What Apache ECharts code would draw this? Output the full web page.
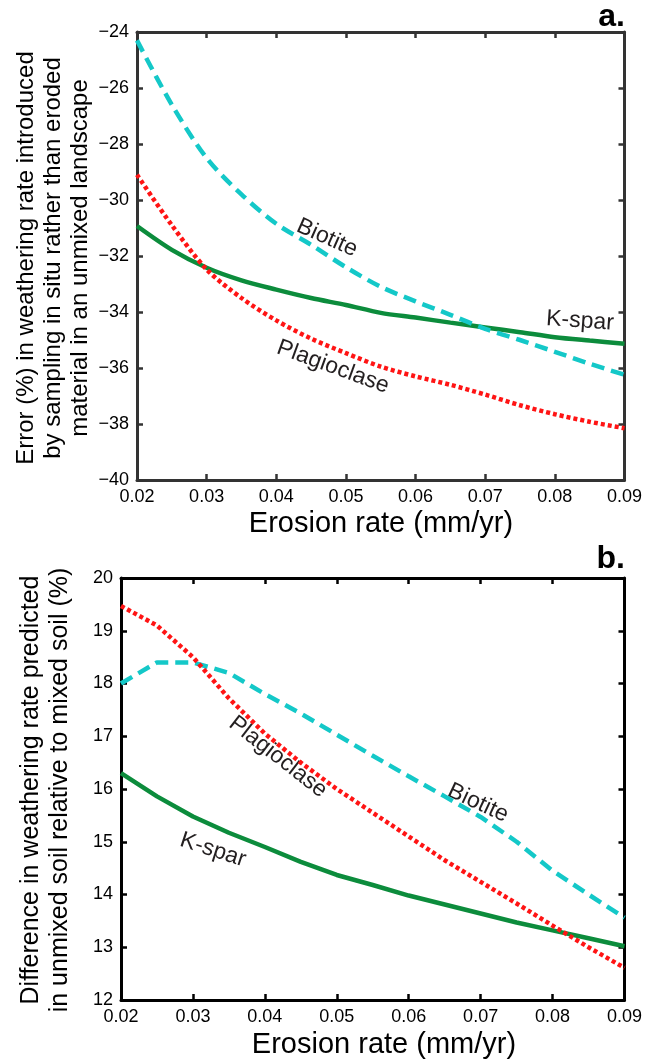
<!DOCTYPE html>
<html><head><meta charset="utf-8">
<script src="https://cdn.jsdelivr.net/npm/echarts@6/dist/echarts.min.js"></script>
<style>html,body{margin:0;padding:0;background:#fff}#c{width:645px;height:1063px}</style>
</head><body><div id="c"></div>
<script>
var erosion = [0.02,0.025,0.03,0.035,0.04,0.045,0.05,0.055,0.06,0.065,0.07,0.075,0.08,0.085,0.09];
var xTicks = ['0.02','0.03','0.04','0.05','0.06','0.07','0.08','0.09'];
// Panel a
var aBiotite = [-24.3,-26.6,-28.5,-29.8,-30.85,-31.6,-32.4,-33.1,-33.62,-34.1,-34.6,-35.0,-35.42,-35.85,-36.24];
var aKspar = [-30.93,-31.78,-32.42,-32.87,-33.2,-33.5,-33.75,-34.03,-34.2,-34.38,-34.55,-34.72,-34.9,-35.02,-35.13];
var aPlag = [-29.1,-30.9,-32.48,-33.5,-34.3,-34.95,-35.47,-35.95,-36.3,-36.6,-36.95,-37.33,-37.65,-37.92,-38.15];
// Panel b
var bBiotite = [18.0,18.4,18.4,18.2,17.8,17.43,17.03,16.63,16.24,15.86,15.47,15.0,14.45,14.0,13.56];
var bKspar = [16.3,15.86,15.48,15.17,14.9,14.62,14.37,14.18,13.98,13.81,13.64,13.47,13.32,13.17,13.02];
var bPlag = [19.47,19.1,18.5,17.72,17.05,16.5,16.0,15.55,15.1,14.65,14.24,13.83,13.41,13.0,12.61];

var labelsA = ['Biotite','K-spar','Plagioclase'];
var labelsB = ['Plagioclase','K-spar','Biotite'];
var xTitle = 'Erosion rate (mm/yr)';

var CYAN = '#14c8c8', RED = '#ff1414', GREEN = '#0c8c3c', TXT = '#231f20';
var tickFont = '"Liberation Sans Narrow","Arial Narrow","Liberation Sans",Arial,sans-serif';
var mainFont = '"Liberation Sans",Arial,sans-serif';

function pairs(v){ return erosion.map(function(x,i){return [x,v[i]];}); }
function fmtX(v){ var s=v.toFixed(2); return xTicks.indexOf(s)>=0?s:''; }
function fmtY(v){ return v<0 ? '\u2212'+Math.abs(v) : ''+v; }

function xAxis(gi, axColor, pos, show){
  return {type:'value', gridIndex:gi, position:pos, min:0.02, max:0.09, interval:0.01,
    axisLine:{show:true, onZero:false, lineStyle:{color:axColor, width:3}},
    axisTick:{show:true, inside:true, length:6, lineStyle:{color:axColor, width:2.5}},
    axisLabel:{show:show, formatter:fmtX, color:'#000', fontFamily:tickFont, fontSize:18, margin:8},
    splitLine:{show:false}};
}
function yAxis(gi, axColor, pos, show, mn, mx, iv){
  return {type:'value', gridIndex:gi, position:pos, min:mn, max:mx, interval:iv,
    axisLine:{show:true, onZero:false, lineStyle:{color:axColor, width:3}},
    axisTick:{show:true, inside:true, length:6, lineStyle:{color:axColor, width:2.5}},
    axisLabel:{show:show, formatter:fmtY, color:'#000', fontFamily:tickFont, fontSize:18, margin:8},
    splitLine:{show:false}};
}
function ser(xi, yi, data, color, type, sm){
  return {type:'line', xAxisIndex:xi, yAxisIndex:yi, data:pairs(data), showSymbol:false, smooth:sm,
    lineStyle:{color:color, width:4.5, type:type, cap:'butt'}, silent:true, animation:false};
}
// cwDeg: clockwise rotation in degrees
function lab(text, x, y, cwDeg){
  return {type:'text', x:x, y:y, rotation:-cwDeg*Math.PI/180,
    style:{text:text, fill:TXT, font:'23px '+mainFont, align:'center', verticalAlign:'middle'}};
}
function vtitle(lines, xs, cy, size){
  return lines.map(function(t,i){
    return {type:'text', x:xs[i], y:cy, rotation:Math.PI/2,
      style:{text:t, fill:'#000', font:size+'px '+mainFont, align:'center', verticalAlign:'middle'}};
  });
}
function htitle(t, cx, cy){
  return {type:'text', x:cx, y:cy, style:{text:t, fill:'#000', font:'29px '+mainFont, align:'center', verticalAlign:'middle'}};
}

var chart = echarts.init(document.getElementById('c'), null, {renderer:'canvas'});
var graphics = []
 .concat(vtitle(['Error (%) in weathering rate introduced','by sampling in situ rather than eroded','material in an unmixed landscape'], [26,53,80], 258, 24))
 .concat(vtitle(['Difference in weathering rate predicted','in unmixed soil relative to mixed soil (%)'], [31,60], 790, 25))
 .concat([
  htitle(xTitle, 381, 524),
  htitle(xTitle, 384, 1045),
  {type:'text', x:625, y:17, style:{text:'a.', fill:'#000', font:'bold 32px '+mainFont, align:'right', verticalAlign:'middle'}},
  {type:'text', x:625, y:559, style:{text:'b.', fill:'#000', font:'bold 32px '+mainFont, align:'right', verticalAlign:'middle'}},
  lab(labelsA[0], 327, 238, 24),
  lab(labelsA[1], 580, 321, 4),
  lab(labelsA[2], 333, 367, 20),
  lab(labelsB[0], 278, 757, 38),
  lab(labelsB[1], 213, 850, 18),
  lab(labelsB[2], 478, 803, 25)
 ]);

chart.setOption({
  animation:false,
  backgroundColor:'#fff',
  grid:[{left:137, top:32, width:490, height:448},{left:121, top:578, width:507, height:422}],
  xAxis:[xAxis(0,'#333','bottom',true), xAxis(0,'#333','top',false), xAxis(1,'#000','bottom',true), xAxis(1,'#000','top',false)],
  yAxis:[yAxis(0,'#333','left',true,-40,-24,2), yAxis(0,'#333','right',false,-40,-24,2),
         yAxis(1,'#000','left',true,12,20,1), yAxis(1,'#000','right',false,12,20,1)],
  series:[
    ser(0,0,aKspar,GREEN,'solid',0.3),
    ser(0,0,aBiotite,CYAN,[13,7],0.3),
    ser(0,0,aPlag,RED,[4,3],0.3),
    ser(2,2,bKspar,GREEN,'solid',false),
    ser(2,2,bBiotite,CYAN,[13,7],false),
    ser(2,2,bPlag,RED,[4,3],false)
  ],
  graphic:graphics
});
</script></body></html>
